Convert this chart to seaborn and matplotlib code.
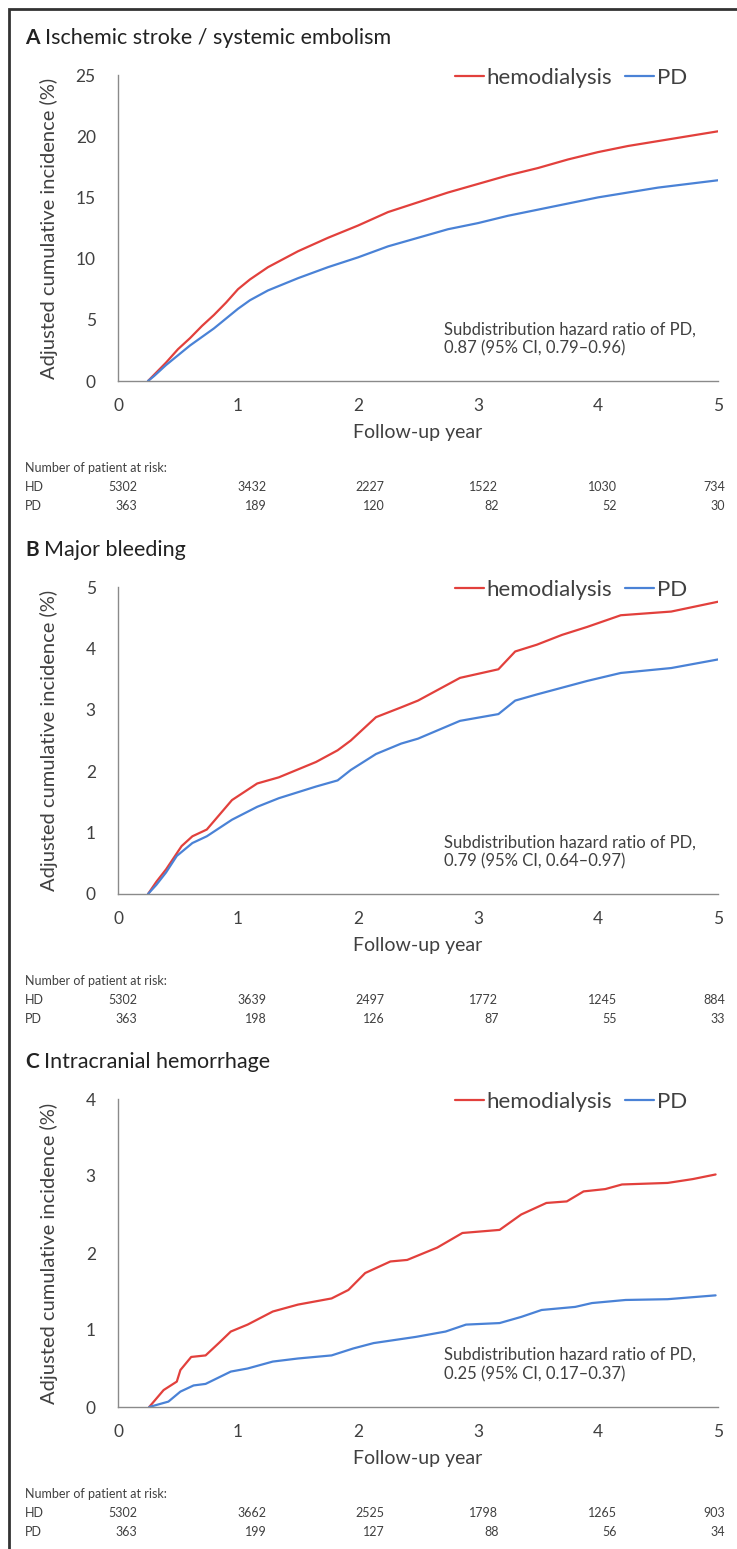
import matplotlib
matplotlib.use('Agg')
import matplotlib.pyplot as plt
import matplotlib.patches as patches
import matplotlib.transforms as mtransforms
import numpy as np
import pandas as pd
import seaborn as sns

# ---- data ----
years = [0, 1, 2, 3, 4, 5]

# panel A: ischemic stroke / systemic embolism
a_hd_t = [0.25, 0.3, 0.4, 0.5, 0.6, 0.7, 0.8, 0.9, 1.0, 1.1, 1.25, 1.5, 1.75, 2.0, 2.25,
          2.5, 2.75, 3.0, 3.25, 3.5, 3.75, 4.0, 4.25, 4.5, 4.75, 5.0]
a_hd_y = [0.0, 0.5, 1.5, 2.6, 3.5, 4.5, 5.4, 6.4, 7.5, 8.3, 9.3, 10.6, 11.7, 12.7, 13.8,
          14.6, 15.4, 16.1, 16.8, 17.4, 18.1, 18.7, 19.2, 19.6, 20.0, 20.4]
a_pd_t = a_hd_t
a_pd_y = [0.0, 0.4, 1.3, 2.1, 2.9, 3.6, 4.3, 5.1, 5.9, 6.6, 7.4, 8.4, 9.3, 10.1, 11.0,
          11.7, 12.4, 12.9, 13.5, 14.0, 14.5, 15.0, 15.4, 15.8, 16.1, 16.4]

# panel B: major bleeding
b_hd_t = [0.25, 0.32, 0.4, 0.53, 0.62, 0.74, 0.95, 1.16, 1.34, 1.65, 1.83, 1.94, 2.15, 2.36,
          2.5, 2.85, 3.17, 3.31, 3.49, 3.7, 3.91, 4.19, 4.61, 5.0]
b_hd_y = [0.0, 0.2, 0.4, 0.78, 0.94, 1.05, 1.53, 1.8, 1.9, 2.15, 2.34, 2.5, 2.88, 3.04,
          3.15, 3.52, 3.66, 3.95, 4.06, 4.22, 4.35, 4.54, 4.6, 4.76]
b_pd_t = [0.25, 0.32, 0.4, 0.49, 0.62, 0.74, 0.95, 1.16, 1.34, 1.65, 1.83, 1.94, 2.15, 2.36,
          2.5, 2.85, 3.17, 3.31, 3.49, 3.7, 3.91, 4.19, 4.61, 5.0]
b_pd_y = [0.0, 0.15, 0.35, 0.62, 0.83, 0.94, 1.21, 1.42, 1.56, 1.75, 1.85, 2.02, 2.28, 2.45,
          2.53, 2.82, 2.93, 3.15, 3.25, 3.36, 3.47, 3.6, 3.68, 3.82]

# panel C: intracranial hemorrhage
c_hd_t = [0.26, 0.38, 0.49, 0.52, 0.61, 0.73, 0.84, 0.94, 1.08, 1.29, 1.5, 1.78, 1.92, 2.06,
          2.27, 2.41, 2.66, 2.87, 3.18, 3.36, 3.57, 3.74, 3.88, 4.06, 4.2, 4.58, 4.79, 4.98]
c_hd_y = [0.0, 0.22, 0.33, 0.48, 0.65, 0.67, 0.83, 0.98, 1.07, 1.24, 1.33, 1.41, 1.52, 1.74,
          1.89, 1.91, 2.07, 2.26, 2.3, 2.5, 2.65, 2.67, 2.8, 2.83, 2.89, 2.91, 2.96, 3.02]
c_pd_t = [0.26, 0.42, 0.52, 0.63, 0.73, 0.94, 1.08, 1.29, 1.5, 1.78, 1.96, 2.13, 2.48, 2.73,
          2.9, 3.18, 3.36, 3.53, 3.81, 3.95, 4.23, 4.58, 4.98]
c_pd_y = [0.0, 0.07, 0.2, 0.28, 0.3, 0.46, 0.5, 0.59, 0.63, 0.67, 0.76, 0.83, 0.91, 0.98,
          1.07, 1.09, 1.17, 1.26, 1.3, 1.35, 1.39, 1.4, 1.45]

a_risk_hd = [5302, 3432, 2227, 1522, 1030, 734]
a_risk_pd = [363, 189, 120, 82, 52, 30]
b_risk_hd = [5302, 3639, 2497, 1772, 1245, 884]
b_risk_pd = [363, 198, 126, 87, 55, 33]
c_risk_hd = [5302, 3662, 2525, 1798, 1265, 903]
c_risk_pd = [363, 199, 127, 88, 56, 34]

panel_letters = ['A', 'B', 'C']
panel_titles = ['Ischemic stroke / systemic embolism', 'Major bleeding', 'Intracranial hemorrhage']
hr_texts = ['Subdistribution hazard ratio of PD,\n0.87 (95% CI, 0.79\u20130.96)',
            'Subdistribution hazard ratio of PD,\n0.79 (95% CI, 0.64\u20130.97)',
            'Subdistribution hazard ratio of PD,\n0.25 (95% CI, 0.17\u20130.37)']
y_max = [25, 5, 4]
y_step = [5, 1, 1]
group_names = ['hemodialysis', 'PD']

# ---- layout (pixels) ----
W, H = 737, 1549
X0, X1 = 118, 718
panel_tops = [75, 587, 1099]
panel_bottoms = [381, 894, 1407]
table_x = [0.16, 1.24, 2.22, 3.17, 4.16, 5.06]  # right edge of risk-table columns, in years

sns.set_style('white')
plt.rcParams['font.family'] = ['Lato', 'DejaVu Sans']
TXT = '#404040'
GRID = '#8a8a8a'
colors = {'hemodialysis': '#e2403c', 'PD': '#4a82d6'}

fig = plt.figure(figsize=(W / 100, H / 100), dpi=100)

curves = [((a_hd_t, a_hd_y), (a_pd_t, a_pd_y)),
          ((b_hd_t, b_hd_y), (b_pd_t, b_pd_y)),
          ((c_hd_t, c_hd_y), (c_pd_t, c_pd_y))]
risks = [(a_risk_hd, a_risk_pd), (b_risk_hd, b_risk_pd), (c_risk_hd, c_risk_pd)]

for i in range(3):
    top, bot = panel_tops[i], panel_bottoms[i]
    ax = fig.add_axes([X0 / W, 1 - bot / H, (X1 - X0) / W, (bot - top) / H])

    (hd_t, hd_y), (pd_t, pd_y) = curves[i]
    df = pd.concat([
        pd.DataFrame({'year': hd_t, 'inc': hd_y, 'group': 'hemodialysis'}),
        pd.DataFrame({'year': pd_t, 'inc': pd_y, 'group': 'PD'}),
    ])
    sns.lineplot(data=df, x='year', y='inc', hue='group', hue_order=group_names,
                 palette=colors, estimator=None, sort=False, lw=1.6, ax=ax)

    ax.set_xlim(0, 5)
    ax.set_ylim(0, y_max[i])
    ax.set_xticks(years)
    ax.set_yticks(np.arange(0, y_max[i] + 0.01, y_step[i]))
    for s in ['top', 'right']:
        ax.spines[s].set_visible(False)
    for s in ['left', 'bottom']:
        ax.spines[s].set_color(GRID)
        ax.spines[s].set_linewidth(1.0)
    ax.tick_params(axis='x', direction='inout', length=7, width=1, color=GRID,
                   labelsize=12.5, labelcolor=TXT, pad=9)
    ax.tick_params(axis='y', direction='out', length=5, width=1, color=GRID,
                   labelsize=12.5, labelcolor=TXT, pad=11)
    ax.set_xlabel('Follow-up year', fontsize=14, color=TXT, labelpad=7)
    ax.set_ylabel('Adjusted cumulative incidence (%)', fontsize=14.5, color=TXT)
    ax.yaxis.set_label_coords(-0.10, 0.5)

    h, l = ax.get_legend_handles_labels()
    ax.legend(h, l, loc='center right', bbox_to_anchor=(0.948, 0.99), ncol=2,
              frameon=False, handlelength=1.3, handletextpad=0.1, columnspacing=0.6,
              fontsize=16, labelcolor=TXT, borderaxespad=0, borderpad=0)

    ax.text(0.543, 0.137, hr_texts[i], transform=ax.transAxes, fontsize=12,
            color=TXT, va='center', ha='left', linespacing=1.25)

    # title
    ty = 1 - (top - 37) / H
    t = fig.text(25 / W, ty, panel_letters[i], fontsize=15, weight='bold', color='#222222',
                 va='center', ha='left')
    ax.annotate(panel_titles[i], xy=(1, 0.5), xycoords=t, xytext=(4, 0),
                textcoords='offset points', fontsize=15.5, color='#222222',
                va='center', ha='left', annotation_clip=False)

    # number at risk table
    tr = mtransforms.blended_transform_factory(ax.transData, fig.transFigure)
    fig.text(25 / W, 1 - (bot + 87) / H, 'Number of patient at risk:', fontsize=9,
             color=TXT, va='center', ha='left')
    hd_row, pd_row = risks[i]
    for lab, row, off in [('HD', hd_row, 106), ('PD', pd_row, 125)]:
        fig.text(25 / W, 1 - (bot + off) / H, lab, fontsize=9, color=TXT,
                 va='center', ha='left')
        for xv, n in zip(table_x, row):
            ax.text(xv, 1 - (bot + off) / H, str(n), transform=tr, fontsize=9,
                    color=TXT, va='center', ha='right', clip_on=False)

# outer frame (left and top edge visible)
frame = patches.Rectangle((9 / W, -0.05), 1.2, 1.05 - 9 / H, transform=fig.transFigure,
                          fill=False, ec='#333333', lw=2, clip_on=False)
fig.patches.append(frame)

fig.savefig('out.png', dpi=100)
